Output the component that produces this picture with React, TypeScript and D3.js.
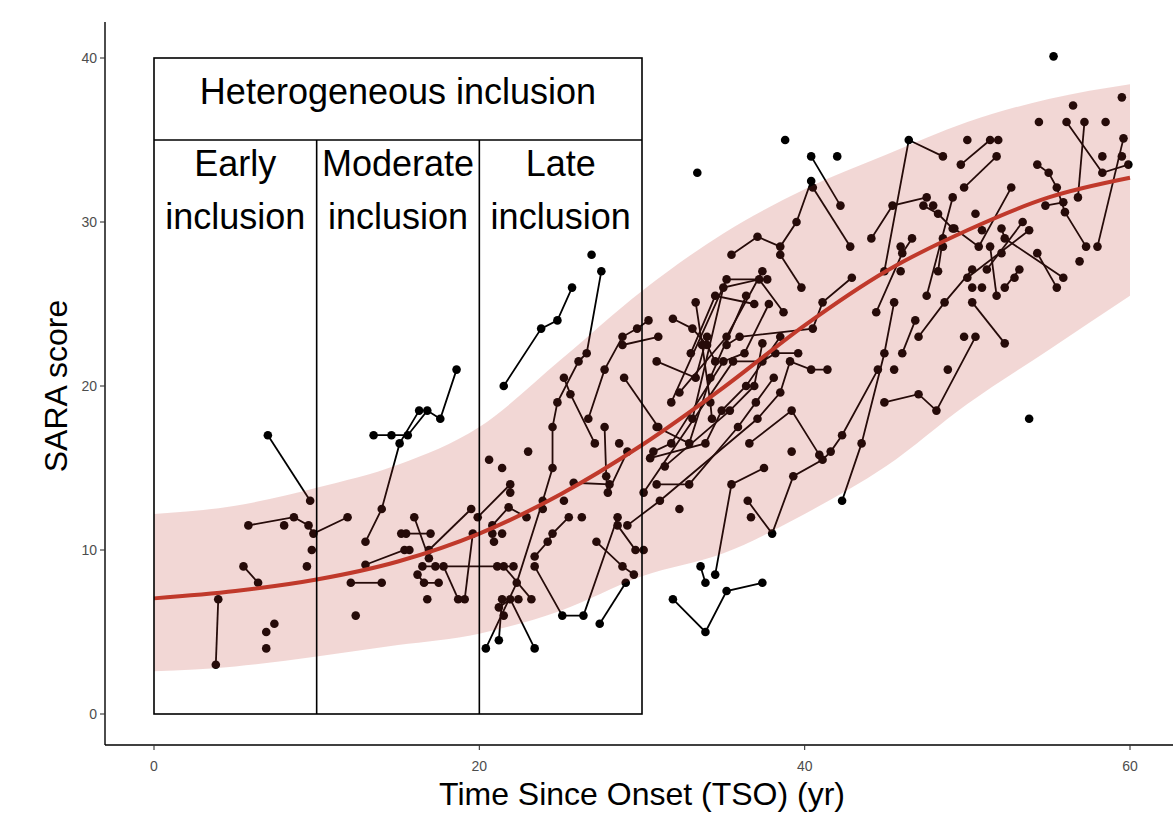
import React from "react";
import * as d3 from "d3";

// ribbon + fitted trend, read every 5 yr
const BAND_TSO = [0, 5, 10, 15, 20, 25, 30, 35, 40, 45, 50, 55, 60];
const BAND_LOWER = [2.6, 2.9, 3.5, 4.2, 4.9, 6.3, 8.4, 9.8, 12.2, 15.1, 18.9, 22.2, 25.5];
const BAND_UPPER = [12.2, 12.7, 13.8, 15.2, 17.5, 21.6, 25.8, 29.3, 32.0, 34.1, 36.1, 37.5, 38.4];
const FIT_SARA = [7.05, 7.5, 8.2, 9.3, 11.0, 13.4, 16.4, 19.9, 23.7, 27.0, 29.5, 31.5, 32.7];

const X_TICKS = [0, 20, 40, 60];
const Y_TICKS = [0, 10, 20, 30, 40];

// one array per subject: [TSO, SARA] visits
const EARLY_SUBJECTS = [
  [[3.8, 3.0], [3.95, 7.0]],
  [[7.0, 17.0], [9.6, 13.0]],
  [[5.8, 11.5], [8.6, 12.0], [9.5, 11.5], [9.8, 11.0], [11.9, 12.0]],
  [[8.0, 11.5]],
  [[9.7, 10.0]],
  [[9.4, 9.0]],
  [[5.5, 9.0], [6.4, 8.0]],
  [[6.9, 4.0]],
  [[6.9, 5.0]],
  [[7.4, 5.5]],
];

const MODERATE_SUBJECTS = [
  [[13.0, 10.5], [14.0, 12.5], [15.1, 16.5], [16.3, 18.5]],
  [[13.5, 17.0], [14.6, 17.0], [15.6, 17.0], [16.8, 18.5], [17.6, 18.0], [18.6, 21.0]],
  [[13.0, 9.1], [15.4, 10.0], [15.7, 10.0]],
  [[12.1, 8.0], [14.0, 8.0]],
  [[12.4, 6.0]],
  [[16.0, 12.0], [16.9, 9.5]],
  [[15.2, 11.0], [15.5, 11.0], [17.0, 11.0]],
  [[16.5, 9.0], [21.1, 9.0], [22.1, 9.0]],
  [[17.3, 9.0]],
  [[17.8, 9.0], [18.7, 7.0]],
  [[16.2, 8.5], [16.6, 8.0], [17.5, 8.0]],
  [[16.8, 7.0]],
  [[19.1, 7.0], [19.6, 11.0]],
  [[16.9, 10.0], [19.5, 12.5]],
  [[19.9, 12.0], [21.9, 14.0], [21.9, 13.5]],
];

const LATE_SUBJECTS = [
  [[20.6, 15.5]],
  [[21.4, 15.0]],
  [[20.4, 4.0], [22.3, 8.0], [23.9, 13.0], [24.5, 15.0], [24.5, 17.5], [24.8, 19.0], [26.1, 21.5], [26.6, 22.0], [27.5, 27.0]],
  [[26.9, 28.0]],
  [[21.5, 20.0], [23.8, 23.5], [24.8, 24.0], [25.7, 26.0]],
  [[25.2, 20.5], [25.6, 19.5], [27.1, 16.5]],
  [[26.7, 18.0], [27.7, 21.0], [28.8, 23.0], [29.7, 23.5], [30.4, 24.0]],
  [[28.8, 22.5], [31.0, 23.0]],
  [[28.9, 20.5], [31.0, 17.5]],
  [[27.7, 17.5], [27.8, 14.5], [27.9, 13.5], [29.1, 16.0]],
  [[25.8, 14.1], [28.0, 14.0]],
  [[23.0, 16.0]],
  [[28.6, 16.5]],
  [[20.8, 11.5], [21.8, 12.6], [22.9, 12.0]],
  [[20.8, 11.0]],
  [[20.9, 10.5]],
  [[21.4, 11.0]],
  [[23.4, 9.6], [24.2, 10.5], [24.5, 11.0], [25.5, 12.0]],
  [[23.4, 9.0], [25.1, 6.0], [26.4, 6.0], [28.5, 12.0]],
  [[26.3, 12.0]],
  [[28.5, 11.5], [29.6, 10.0], [30.1, 10.0]],
  [[27.2, 10.5], [28.8, 9.0], [29.5, 8.5]],
  [[27.4, 5.5], [29.0, 8.0]],
  [[21.5, 9.0], [23.2, 7.0]],
  [[21.2, 4.5], [21.4, 7.0]],
  [[21.2, 6.5], [21.9, 7.0], [23.4, 4.0]],
  [[21.5, 6.0]],
  [[22.4, 7.0]],
  [[23.9, 12.5]],
  [[25.2, 13.0]],
  [[29.1, 11.5], [31.1, 13.0], [37.1, 18.0], [38.5, 19.6], [39.1, 21.5], [40.4, 21.0], [41.4, 21.0]],
];

const AFTER_SUBJECTS = [
  [[31.9, 7.0], [33.9, 5.0], [35.2, 7.5], [37.4, 8.0]],
  [[33.6, 9.0], [33.9, 8.0]],
  [[34.5, 8.5], [35.5, 14.0], [37.5, 15.0]],
  [[32.3, 12.5]],
  [[35.5, 28.0], [37.1, 29.1], [38.5, 28.5], [39.5, 30.0], [40.4, 32.5]],
  [[38.5, 28.0], [39.8, 26.0]],
  [[40.4, 34.0], [42.2, 31.0]],
  [[40.5, 32.1], [42.8, 28.5]],
  [[33.4, 33.0]],
  [[38.8, 35.0]],
  [[42.0, 34.0]],
  [[30.9, 21.5], [33.3, 20.5], [34.0, 23.0]],
  [[31.9, 24.1], [33.1, 23.5], [34.0, 22.5], [34.5, 21.5]],
  [[33.3, 25.1], [33.7, 22.5], [34.2, 19.0], [34.3, 18.0]],
  [[33.0, 22.0], [34.5, 25.5], [36.9, 25.0]],
  [[32.3, 19.6], [35.2, 23.0], [37.4, 27.0]],
  [[31.8, 19.0], [35.2, 26.5], [37.7, 26.5]],
  [[33.1, 18.0], [35.0, 26.0], [37.2, 26.5], [38.7, 24.5]],
  [[30.9, 17.5], [32.9, 16.5], [34.2, 20.5], [36.4, 25.5]],
  [[30.7, 16.0], [31.8, 16.5], [35.0, 21.5], [36.3, 22.0], [37.8, 25.0]],
  [[30.5, 15.6], [33.9, 16.5], [34.9, 18.5], [36.4, 20.0], [38.5, 23.0]],
  [[31.4, 15.1], [35.4, 18.5], [36.9, 20.0], [37.4, 22.6]],
  [[30.9, 14.0], [32.9, 14.0], [35.9, 17.5], [37.0, 19.0], [38.1, 20.5]],
  [[30.1, 13.5], [35.6, 21.5], [37.4, 21.5], [38.2, 22.0], [39.6, 22.0]],
  [[36.6, 16.5], [39.2, 18.5], [40.9, 15.8]],
  [[35.2, 22.5], [36.0, 23.0], [40.5, 23.5], [41.1, 25.1], [42.9, 26.6]],
  [[36.7, 12.0]],
  [[39.2, 16.0]],
  [[36.5, 13.0], [38.0, 11.0], [39.3, 14.5], [41.1, 15.5], [41.6, 16.0], [42.3, 17.0], [44.5, 21.0]],
  [[44.1, 29.0], [45.4, 31.0], [47.5, 31.5]],
  [[44.9, 27.0], [46.4, 35.0], [48.5, 34.0]],
  [[44.4, 24.5], [46.0, 28.1], [46.6, 29.0]],
  [[45.9, 28.5]],
  [[45.9, 27.0]],
  [[47.3, 31.0], [48.2, 30.5], [49.1, 29.6]],
  [[47.9, 31.0]],
  [[47.5, 25.5], [49.1, 31.5]],
  [[48.2, 27.0], [48.5, 29.0]],
  [[48.5, 28.5]],
  [[42.3, 13.0], [43.5, 16.5], [44.9, 22.0], [45.5, 25.1]],
  [[46.0, 22.0], [46.8, 24.0]],
  [[45.5, 21.0]],
  [[44.9, 19.0], [47.0, 19.5], [48.1, 18.5], [50.5, 23.0]],
  [[49.8, 23.0]],
  [[47.0, 23.0], [48.6, 25.1], [50.3, 27.1]],
  [[48.8, 21.0]],
  [[49.6, 33.5], [51.4, 35.0]],
  [[49.8, 32.1], [51.8, 34.0]],
  [[50.0, 35.0]],
  [[51.9, 35.0]],
  [[49.2, 29.6], [50.7, 28.5], [52.7, 32.1]],
  [[50.5, 30.5]],
  [[50.9, 29.5]],
  [[50.0, 26.6], [53.8, 29.5]],
  [[51.2, 27.1], [53.4, 30.0]],
  [[51.4, 28.5], [51.8, 25.5]],
  [[52.1, 29.6], [52.3, 29.0], [55.9, 26.6]],
  [[52.3, 26.0], [53.2, 27.1]],
  [[54.3, 28.1], [55.5, 26.0]],
  [[50.3, 26.0]],
  [[50.9, 26.0]],
  [[52.1, 28.1]],
  [[52.9, 26.6]],
  [[54.3, 33.5], [55.0, 33.0], [55.5, 32.1], [56.0, 30.6], [57.3, 28.5]],
  [[58.0, 28.5], [59.6, 35.1]],
  [[56.1, 36.1], [58.3, 33.0], [59.9, 33.5]],
  [[56.8, 31.5], [57.2, 36.1]],
  [[54.8, 31.0], [55.9, 31.2]],
  [[54.4, 36.1]],
  [[58.5, 36.1]],
  [[59.5, 37.6]],
  [[56.5, 37.1]],
  [[58.3, 34.0]],
  [[59.5, 34.0]],
  [[56.9, 27.6]],
  [[55.3, 40.1]],
  [[53.8, 18.0]],
  [[50.3, 25.1], [52.3, 22.6]],
];

const SUBJECTS = [...EARLY_SUBJECTS, ...MODERATE_SUBJECTS, ...LATE_SUBJECTS, ...AFTER_SUBJECTS];

const WIDTH = 1173;
const HEIGHT = 818;
const PANEL = { left: 105, right: 1173, top: 22, bottom: 745 };
const FONT = "'Liberation Sans', Arial, Helvetica, sans-serif";
const FIT_COLOR = "#c0392b";

const x = d3.scaleLinear().domain([0, 60]).range([154, 1130]);
const y = d3.scaleLinear().domain([0, 40]).range([714, 58]);

const band = BAND_TSO.map((t, i) => ({ t, lo: BAND_LOWER[i], hi: BAND_UPPER[i], fit: FIT_SARA[i] }));

const areaGen = d3
  .area<any>()
  .x((d) => x(d.t))
  .y0((d) => y(d.lo))
  .y1((d) => y(d.hi))
  .curve(d3.curveMonotoneX);

const fitGen = d3
  .line<any>()
  .x((d) => x(d.t))
  .y((d) => y(d.fit))
  .curve(d3.curveMonotoneX);

const pathGen = d3
  .line<number[]>()
  .x((d) => x(d[0]))
  .y((d) => y(d[1]));

export default function App() {
  return (
    <div style={{ position: "absolute", left: 0, top: 0 }}>
      <svg width={WIDTH} height={HEIGHT} style={{ display: "block", background: "#fff" }}>
        {/* subject trajectories */}
        <g>
          {SUBJECTS.filter((s) => s.length > 1).map((s, i) => (
            <path key={"l" + i} d={pathGen(s) || ""} fill="none" stroke="#000" strokeWidth={1.8} />
          ))}
          {SUBJECTS.map((s, i) =>
            s.map((p, j) => <circle key={"p" + i + "-" + j} cx={x(p[0])} cy={y(p[1])} r={4.3} fill="#000" />)
          )}
        </g>

        {/* prediction band and fit */}
        <path d={areaGen(band) || ""} fill={FIT_COLOR} fillOpacity={0.2} stroke="none" />
        <path d={fitGen(band) || ""} fill="none" stroke={FIT_COLOR} strokeWidth={4} />

        {/* inclusion boxes */}
        <g fill="none" stroke="#000" strokeWidth={1.6}>
          <rect x={x(0)} y={y(40)} width={x(30) - x(0)} height={y(0) - y(40)} />
          <line x1={x(0)} x2={x(30)} y1={y(35)} y2={y(35)} />
          <line x1={x(10)} x2={x(10)} y1={y(35)} y2={y(0)} />
          <line x1={x(20)} x2={x(20)} y1={y(35)} y2={y(0)} />
        </g>
        <g fontFamily={FONT} fontSize={36} fill="#000" textAnchor="middle">
          <text x={x(15)} y={y(37.2)}>Heterogeneous inclusion</text>
          <text x={x(5)} y={y(32.8)}>Early</text>
          <text x={x(5)} y={y(29.6)}>inclusion</text>
          <text x={x(15)} y={y(32.8)}>Moderate</text>
          <text x={x(15)} y={y(29.6)}>inclusion</text>
          <text x={x(25)} y={y(32.8)}>Late</text>
          <text x={x(25)} y={y(29.6)}>inclusion</text>
        </g>

        {/* axes */}
        <g stroke="#000" strokeWidth={1.4}>
          <line x1={PANEL.left} x2={PANEL.left} y1={PANEL.top} y2={PANEL.bottom} />
          <line x1={PANEL.left} x2={PANEL.right} y1={PANEL.bottom} y2={PANEL.bottom} />
        </g>
        <g fontFamily={FONT} fontSize={14} fill="#4d4d4d">
          {Y_TICKS.map((t) => (
            <g key={"y" + t}>
              <line x1={PANEL.left - 5} x2={PANEL.left} y1={y(t)} y2={y(t)} stroke="#333" strokeWidth={1.1} />
              <text x={PANEL.left - 8} y={y(t)} dy="0.35em" textAnchor="end">
                {t}
              </text>
            </g>
          ))}
          {X_TICKS.map((t) => (
            <g key={"x" + t}>
              <line x1={x(t)} x2={x(t)} y1={PANEL.bottom} y2={PANEL.bottom + 5} stroke="#333" strokeWidth={1.1} />
              <text x={x(t)} y={PANEL.bottom + 26} textAnchor="middle">
                {t}
              </text>
            </g>
          ))}
        </g>
        <text x={(154 + 1130) / 2} y={805} fontFamily={FONT} fontSize={32} textAnchor="middle" fill="#000">
          Time Since Onset (TSO) (yr)
        </text>
        <text
          transform={`translate(67, ${y(20)}) rotate(-90)`}
          fontFamily={FONT}
          fontSize={32}
          textAnchor="middle"
          fill="#000"
        >
          SARA score
        </text>
      </svg>
    </div>
  );
}
